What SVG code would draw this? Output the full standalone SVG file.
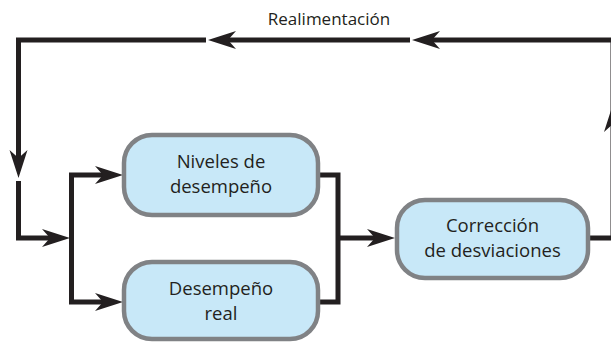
<svg xmlns="http://www.w3.org/2000/svg" xmlns:xlink="http://www.w3.org/1999/xlink" width="611" height="345" viewBox="0 0 611 345">
<style>
.n{fill:#c8e8f8;stroke:#808285;stroke-width:4.5}
.t{font-family:"Open Sans","Noto Sans",sans-serif;font-size:18.5px;fill:#231f20;text-anchor:middle}
.c{fill:none;stroke:#231f20;stroke-width:5;stroke-linejoin:miter}
.ah{fill:#231f20}
</style>
<defs>
<path id="ah" d="M0,0 L-28,-9 L-20,0 L-28,9 Z"/>
</defs>
<rect width="611" height="345" fill="#ffffff"/>
<text class="t" x="329" y="25" style="font-size:17px">Realimentación</text>
<g id="connectors">
<path class="c" d="M590,238 H613 V40"/>
<path class="c" d="M613,40 H430"/>
<path class="c" d="M410,40 H226"/>
<path class="c" d="M206,40 H18.5 V158"/>
<path class="c" d="M18.5,181 V238 H52"/>
<path class="c" d="M103,175 H71.5 V302 H103"/>
<path class="c" d="M318,175 H338 V302 H318"/>
<path class="c" d="M338,238 H375"/>
<use href="#ah" class="ah" transform="translate(613,104) rotate(-90)"/>
<use href="#ah" class="ah" transform="translate(412,40) rotate(180)"/>
<use href="#ah" class="ah" transform="translate(208,40) rotate(180)"/>
<use href="#ah" class="ah" transform="translate(18.5,178) rotate(90)"/>
<use href="#ah" class="ah" transform="translate(70,238)"/>
<use href="#ah" class="ah" transform="translate(123,175)"/>
<use href="#ah" class="ah" transform="translate(123,302)"/>
<use href="#ah" class="ah" transform="translate(395,238)"/>
</g>
<g id="niveles">
<rect class="n" x="124" y="135" width="194" height="80" rx="28"/>
<text class="t" x="221" y="168">Niveles de</text>
<text class="t" x="221" y="193">desempeño</text>
</g>
<g id="desempeno">
<rect class="n" x="124" y="262" width="194" height="77" rx="28"/>
<text class="t" x="221" y="295">Desempeño</text>
<text class="t" x="221" y="320">real</text>
</g>
<g id="correccion">
<rect class="n" x="397" y="200" width="191" height="78" rx="28"/>
<text class="t" x="492.5" y="232">Corrección</text>
<text class="t" x="492.5" y="257">de desviaciones</text>
</g>
</svg>
